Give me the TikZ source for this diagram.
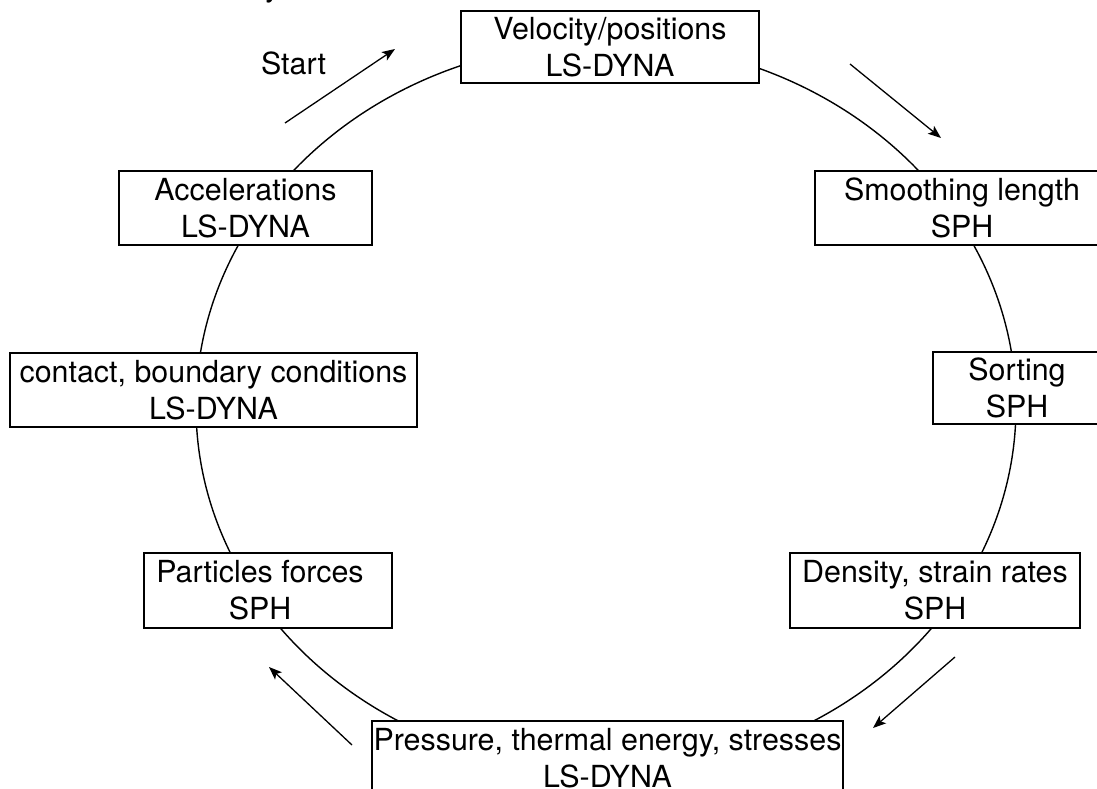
\documentclass[tikz,border=0pt]{standalone}
\usepackage{fontspec}
\setmainfont{TeX Gyre Heros}
\usetikzlibrary{arrows.meta}
\begin{document}
\begin{tikzpicture}[x=1pt,y=-1pt,
  stagebox/.style={draw,line width=1.5pt,fill=white,inner sep=0pt,align=center,
    font=\fontsize{30.4}{37}\selectfont},
  flow/.style={line width=1.3pt,-{Stealth[length=13pt,width=10pt,inset=3pt]}},
  ring/.style={line width=1.4pt},
  plain/.style={inner sep=0pt,font=\fontsize{30.4}{37}\selectfont}]
\useasboundingbox (0,0) rectangle (1097,789);
% clipped fragment at top edge
\node[plain,anchor=base west] (frag) at (265,-3) {y};
% cycle
\draw[ring] (606,406.6) ellipse [x radius=410pt, y radius=364.5pt];
% stages
\node[stagebox,minimum width=298pt,minimum height=72pt] (vel) at (610,47) {Velocity/positions\\LS-DYNA};
\node[stagebox,minimum width=294pt,minimum height=74pt] (smooth) at (962,208) {Smoothing length\\SPH};
\node[stagebox,minimum width=168pt,minimum height=72pt] (sort) at (1017,388) {Sorting\\SPH};
\node[stagebox,minimum width=290pt,minimum height=75pt] (dens) at (935,590.5) {Density, strain rates\\SPH};
\node[stagebox,minimum width=471pt,minimum height=74pt] (press) at (607.5,758) {Pressure, thermal energy, stresses\\LS-DYNA};
\node[stagebox,minimum width=248pt,minimum height=75pt] (part) at (268,590.5) {Particles forces\hspace*{16pt}\\SPH\hspace*{16pt}};
\node[stagebox,minimum width=407pt,minimum height=74pt] (cont) at (213.5,390) {contact, boundary conditions\\LS-DYNA};
\node[stagebox,minimum width=253pt,minimum height=74pt] (acc) at (245.5,208) {Accelerations\\LS-DYNA};
% start label
\node[plain] (start) at (293.5,63.5) {Start};
% direction arrows
\coordinate (a1s) at (285,123); \coordinate (a1e) at (395,49);
\coordinate (a2s) at (850,64);  \coordinate (a2e) at (941,138);
\coordinate (a3s) at (955,657); \coordinate (a3e) at (873,728);
\coordinate (a4s) at (352,745); \coordinate (a4e) at (269,667);
\draw[flow] (a1s) -- (a1e);
\draw[flow] (a2s) -- (a2e);
\draw[flow] (a3s) -- (a3e);
\draw[flow] (a4s) -- (a4e);
\end{tikzpicture}
\end{document}
